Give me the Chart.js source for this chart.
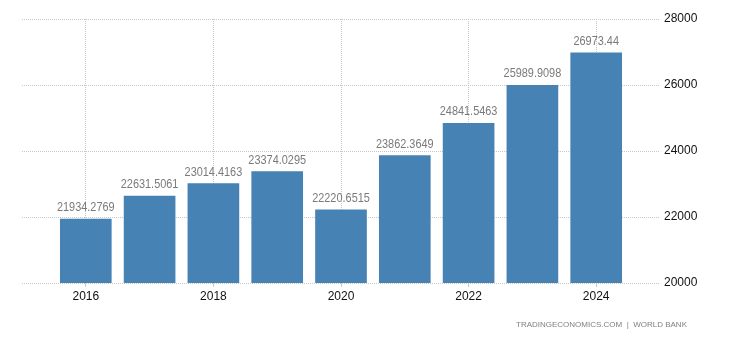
<!DOCTYPE html>
<html>
<head>
<meta charset="utf-8">
<script src="https://cdn.jsdelivr.net/npm/chart.js@4"></script>
<style>
  html, body { margin: 0; padding: 0; background: #fff; }
  #wrap { position: relative; width: 730px; height: 340px; }
  #src {
    position: absolute; left: 516px; top: 320px;
    font: 8px/10px "Liberation Sans", Arial, sans-serif; color: #808080;
    white-space: pre;
  }
</style>
</head>
<body>
<div id="wrap">
  <canvas id="gdp" width="730" height="340"></canvas>
  <div id="src">TRADINGECONOMICS.COM  |  WORLD BANK</div>
</div>
<script>
const years  = ['', '2016', '2017', '2018', '2019', '2020', '2021', '2022', '2023', '2024', ''];
const values = [null, 21934.2769, 22631.5061, 23014.4163, 23374.0295, 22220.6515, 23862.3649, 24841.5463, 25989.9098, 26973.44, null];
const yTicks = [20000, 22000, 24000, 26000, 28000];

const shownYear = i => ['2016', '2018', '2020', '2022', '2024'].includes(years[i]);

// draws the value above each bar (slightly condensed, like the source)
const barLabels = {
  id: 'barLabels',
  afterDatasetsDraw(chart) {
    const ctx = chart.ctx;
    const meta = chart.getDatasetMeta(0);
    ctx.save();
    ctx.font = '13px "Liberation Sans", Arial, sans-serif';
    ctx.fillStyle = '#7a7a7a';
    ctx.textAlign = 'center';
    ctx.textBaseline = 'alphabetic';
    meta.data.forEach((bar, i) => {
      if (values[i] == null) return;
      ctx.save();
      ctx.translate(bar.x, bar.y - 8);
      ctx.scale(0.84, 1);
      ctx.fillText(String(values[i]), 0, 0);
      ctx.restore();
    });
    ctx.restore();
  }
};

new Chart(document.getElementById('gdp'), {
  type: 'bar',
  data: {
    labels: years,
    datasets: [{
      data: values,
      backgroundColor: '#4682b4',
      barThickness: 51
    }]
  },
  options: {
    responsive: false,
    animation: false,
    layout: { padding: { left: 22, top: 19, right: 0, bottom: 0 } },
    plugins: { legend: { display: false }, tooltip: { enabled: false } },
    scales: {
      x: {
        offset: false,
        afterFit: s => { s.height = 57; },
        border: { display: false, dash: [1, 1] },
        grid: {
          offset: false,
          color: c => shownYear(c.index) ? '#c8c8c8' : 'rgba(0,0,0,0)',
          tickLength: 4
        },
        ticks: {
          autoSkip: false,
          maxRotation: 0,
          padding: 2,
          color: '#111',
          font: { family: '"Liberation Sans", Arial, sans-serif', size: 12 },
          callback: (v, i) => shownYear(i) ? years[i] : ''
        }
      },
      y: {
        position: 'right',
        min: 20000,
        max: 28000,
        afterBuildTicks: s => { s.ticks = yTicks.map(v => ({ value: v })); },
        afterFit: s => { s.width = 70; },
        border: { display: false, dash: [1, 1] },
        grid: { color: '#c8c8c8', drawTicks: false },
        ticks: {
          padding: 4,
          color: '#111',
          font: { family: '"Liberation Sans", Arial, sans-serif', size: 12 },
          callback: v => String(v)
        }
      }
    }
  },
  plugins: [barLabels]
});
</script>
</body>
</html>
